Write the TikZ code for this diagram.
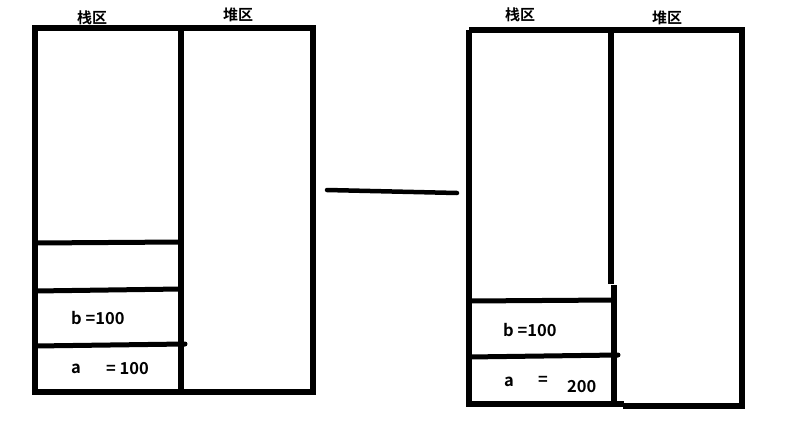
\documentclass[tikz,border=0pt]{standalone}
\usepackage{fontspec}
\setmainfont{Noto Sans CJK SC Bold}
\newfontfamily\cjkfont{Noto Sans CJK SC Bold}
\begin{document}
\begin{tikzpicture}[x=1pt,y=-1pt,
  wall/.style={line width=5.5pt},
  shelf/.style={line width=5pt},
  lbl/.style={font=\fontsize{16.5}{18}\selectfont, inner sep=0pt},
  cjk/.style={font=\fontsize{15}{17}\selectfont\cjkfont, inner sep=0pt}]
\useasboundingbox[fill=white] (0,0) rectangle (793,442);
% left diagram
\draw[wall] (35,28) rectangle (313,392);
\draw[wall] (181,28) -- (181,392);
\draw[shelf] (35,243) -- (181,242);
\draw[shelf] (35,291) -- (181,289);
\draw[shelf,line cap=round] (35,346) -- (185,344);
\node[cjk] (ls) at (92,18) {栈区};
\node[cjk] (lh) at (238,15) {堆区};
\node[lbl,anchor=west] (lb) at (71,318) {b =100};
\node[lbl,anchor=west] (la) at (71,369) {a};
\node[lbl,anchor=west] (lav) at (106,369) {= 100};
% connector
\draw[line width=4.5pt,line cap=round] (327,190) -- (457,193);
% right diagram
\draw[wall] (469,30) -- (742,30) -- (742,406) -- (623,406);
\draw[wall] (469,30) -- (469,404) -- (624,404);
\draw[wall] (611,30) -- (611,284);
\draw[wall] (614,285) -- (614,404);
\draw[shelf] (469,301) -- (614,300);
\draw[shelf,line cap=round] (469,357) -- (618,355);
\node[cjk] (rs) at (520,15) {栈区};
\node[cjk] (rh) at (667,18) {堆区};
\node[lbl,anchor=west] (rb) at (503,330) {b =100};
\node[lbl,anchor=west] (ra) at (504,382) {a};
\node[lbl,anchor=west] (req) at (538,381) {=};
\node[lbl,anchor=west] (rav) at (567,387) {200};
\end{tikzpicture}
\end{document}
